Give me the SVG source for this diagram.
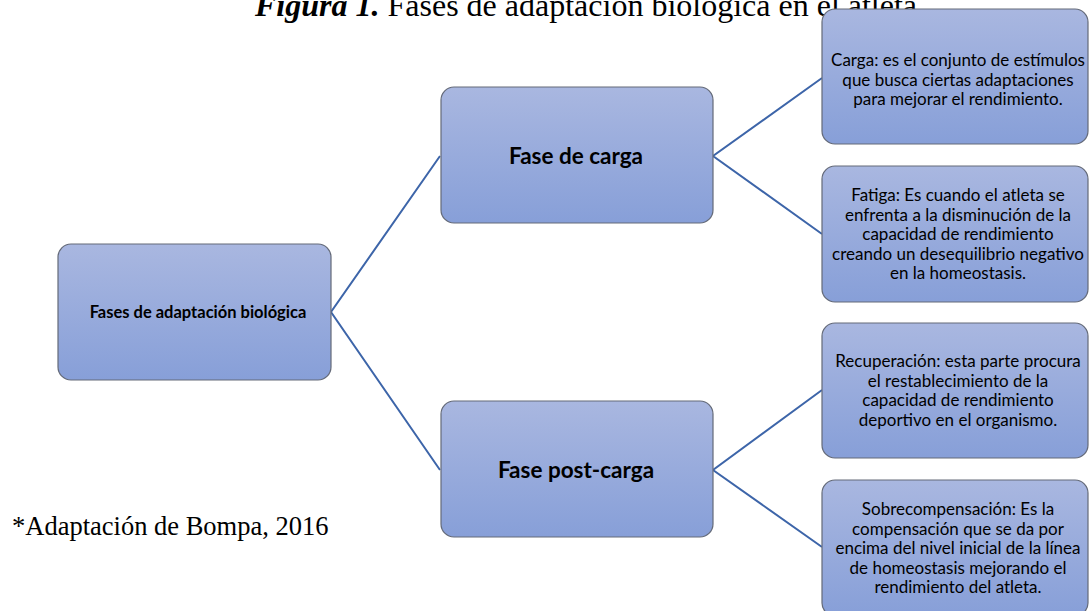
<svg xmlns="http://www.w3.org/2000/svg" width="1089" height="611" viewBox="0 0 1089 611">
<defs>
<linearGradient id="g" x1="0" y1="0" x2="0" y2="1">
<stop offset="0" stop-color="#a9b7e0"/>
<stop offset="1" stop-color="#879fd8"/>
</linearGradient>
<style>
.box{fill:url(#g);stroke:#646a78;stroke-width:1.2}
.t{font-family:Lato,"Open Sans",sans-serif;fill:#000;text-anchor:middle}
.b{font-weight:bold}
.leaf{font-size:17px}
.ser{font-family:"Liberation Serif","Times New Roman",serif;fill:#000}
.con{stroke:#3d65a9;stroke-width:2;fill:none}
</style>
</defs>
<rect width="1089" height="611" fill="#fff"/>
<text class="ser" x="255" y="16" font-size="32"><tspan font-weight="bold" font-style="italic">Figura 1.</tspan> Fases de adaptación biológica en el atleta</text>
<g id="connectors">
<polyline class="con" points="440,156 331,312 440,470"/>
<polyline class="con" points="822,78 713,156 822,234"/>
<polyline class="con" points="822,390 713,470 822,547"/>
</g>
<g id="root">
<rect class="box" x="58" y="244" width="273" height="136" rx="13"/>
<text class="t b" x="198" y="318" font-size="16.5">Fases de adaptación biológica</text>
</g>
<g id="fase-carga">
<rect class="box" x="441" y="87" width="272" height="136" rx="13"/>
<text class="t b" x="576" y="164" font-size="22.5">Fase de carga</text>
</g>
<g id="fase-post-carga">
<rect class="box" x="441" y="401" width="272" height="136" rx="13"/>
<text class="t b" x="576" y="478" font-size="22.5">Fase post-carga</text>
</g>
<g id="carga">
<rect class="box" x="822" y="9" width="266" height="135" rx="13"/>
<text class="t leaf" x="958" y="66">Carga: es el conjunto de estímulos</text>
<text class="t leaf" x="958" y="86">que busca ciertas adaptaciones</text>
<text class="t leaf" x="958" y="105">para mejorar el rendimiento.</text>
</g>
<g id="fatiga">
<rect class="box" x="822" y="166" width="266" height="136" rx="13"/>
<text class="t leaf" x="958" y="201">Fatiga: Es cuando el atleta se</text>
<text class="t leaf" x="958" y="220.5">enfrenta a la disminución de la</text>
<text class="t leaf" x="958" y="240">capacidad de rendimiento</text>
<text class="t leaf" x="958" y="259.5">creando un desequilibrio negativo</text>
<text class="t leaf" x="958" y="279">en la homeostasis.</text>
</g>
<g id="recuperacion">
<rect class="box" x="822" y="323" width="266" height="135" rx="13"/>
<text class="t leaf" x="958" y="367">Recuperación: esta parte procura</text>
<text class="t leaf" x="958" y="386.5">el restablecimiento de la</text>
<text class="t leaf" x="958" y="406">capacidad de rendimiento</text>
<text class="t leaf" x="958" y="425.5">deportivo en el organismo.</text>
</g>
<g id="sobrecompensacion">
<rect class="box" x="822" y="480" width="266" height="136" rx="13"/>
<text class="t leaf" x="958" y="515">Sobrecompensación: Es la</text>
<text class="t leaf" x="958" y="534.5">compensación que se da por</text>
<text class="t leaf" x="958" y="554">encima del nivel inicial de la línea</text>
<text class="t leaf" x="958" y="573.5">de homeostasis mejorando el</text>
<text class="t leaf" x="958" y="593">rendimiento del atleta.</text>
</g>
<text class="ser" x="12" y="535" font-size="26.5">*Adaptación de Bompa, 2016</text>
</svg>
